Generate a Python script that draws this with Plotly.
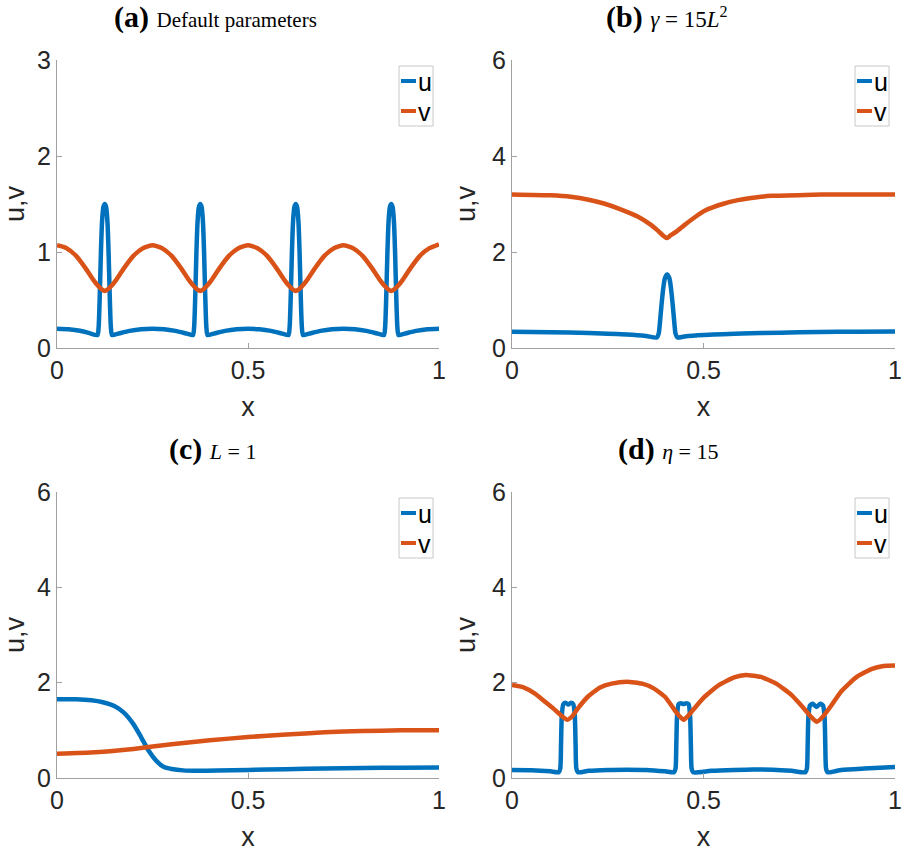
import plotly.graph_objects as go

# ---------------- data ----------------
# (a) Default parameters
xa_u = [0.000, 0.030, 0.060, 0.085,
        0.106, 0.109, 0.112, 0.115, 0.118, 0.1215, 0.125, 0.1285, 0.132, 0.135, 0.138, 0.141, 0.144,
        0.160, 0.190, 0.220, 0.250, 0.280, 0.310, 0.340,
        0.356, 0.359, 0.362, 0.365, 0.368, 0.3715, 0.375, 0.3785, 0.382, 0.385, 0.388, 0.391, 0.394,
        0.410, 0.440, 0.470, 0.500, 0.530, 0.560, 0.590,
        0.606, 0.609, 0.612, 0.615, 0.618, 0.6215, 0.625, 0.6285, 0.632, 0.635, 0.638, 0.641, 0.644,
        0.660, 0.690, 0.720, 0.750, 0.780, 0.810, 0.840,
        0.856, 0.859, 0.862, 0.865, 0.868, 0.8715, 0.875, 0.8785, 0.882, 0.885, 0.888, 0.891, 0.894,
        0.910, 0.940, 0.970, 1.000]
ua = [0.200, 0.195, 0.180, 0.155,
      0.135, 0.22, 0.55, 1.00, 1.32, 1.47, 1.50, 1.47, 1.32, 1.00, 0.55, 0.22, 0.135,
      0.150, 0.178, 0.195, 0.200, 0.195, 0.178, 0.150,
      0.135, 0.22, 0.55, 1.00, 1.32, 1.47, 1.50, 1.47, 1.32, 1.00, 0.55, 0.22, 0.135,
      0.150, 0.178, 0.195, 0.200, 0.195, 0.178, 0.150,
      0.135, 0.22, 0.55, 1.00, 1.32, 1.47, 1.50, 1.47, 1.32, 1.00, 0.55, 0.22, 0.135,
      0.150, 0.178, 0.195, 0.200, 0.195, 0.178, 0.150,
      0.135, 0.22, 0.55, 1.00, 1.32, 1.47, 1.50, 1.47, 1.32, 1.00, 0.55, 0.22, 0.135,
      0.150, 0.178, 0.195, 0.200]
xa_v = [0.000, 0.025, 0.050, 0.075, 0.095, 0.108, 0.118, 0.125, 0.132, 0.142, 0.155, 0.175, 0.200, 0.225,
        0.250, 0.275, 0.300, 0.325, 0.345, 0.358, 0.368, 0.375, 0.382, 0.392, 0.405, 0.425, 0.450, 0.475,
        0.500, 0.525, 0.550, 0.575, 0.595, 0.608, 0.618, 0.625, 0.632, 0.642, 0.655, 0.675, 0.700, 0.725,
        0.750, 0.775, 0.800, 0.825, 0.845, 0.858, 0.868, 0.875, 0.882, 0.892, 0.905, 0.925, 0.950, 0.975,
        1.000]
va = [1.07, 1.04, 0.96, 0.83, 0.71, 0.645, 0.607, 0.595, 0.607, 0.645, 0.71, 0.83, 0.96, 1.04,
      1.07, 1.04, 0.96, 0.83, 0.71, 0.645, 0.607, 0.595, 0.607, 0.645, 0.71, 0.83, 0.96, 1.04,
      1.07, 1.04, 0.96, 0.83, 0.71, 0.645, 0.607, 0.595, 0.607, 0.645, 0.71, 0.83, 0.96, 1.04,
      1.07, 1.04, 0.96, 0.83, 0.71, 0.645, 0.607, 0.595, 0.607, 0.645, 0.71, 0.83, 0.96, 1.04,
      1.08]

# (b) gamma = 15 L^2
xb_u = [0.000, 0.100, 0.200, 0.300, 0.350, 0.378, 0.383, 0.387, 0.391, 0.395, 0.399, 0.405,
        0.411, 0.415, 0.419, 0.423, 0.427, 0.432, 0.450, 0.500, 0.600, 0.700, 0.800, 0.900, 1.000]
ub = [0.34, 0.33, 0.31, 0.28, 0.25, 0.22, 0.30, 0.60, 0.95, 1.25, 1.45, 1.53,
      1.45, 1.25, 0.95, 0.60, 0.30, 0.22, 0.24, 0.27, 0.30, 0.32, 0.335, 0.34, 0.345]
xb_v = [0.000, 0.100, 0.153, 0.200, 0.240, 0.280, 0.328, 0.360, 0.380, 0.395, 0.404, 0.413,
        0.430, 0.450, 0.480, 0.503, 0.550, 0.590, 0.640, 0.678, 0.765, 0.850, 1.000]
vb = [3.20, 3.18, 3.15, 3.09, 3.01, 2.90, 2.74, 2.58, 2.45, 2.34, 2.29, 2.34,
      2.43, 2.56, 2.74, 2.86, 3.00, 3.08, 3.14, 3.17, 3.19, 3.20, 3.20]

# (c) L = 1
xc_u = [0.000, 0.050, 0.090, 0.120, 0.150, 0.175, 0.200, 0.220, 0.240, 0.260, 0.280, 0.300,
        0.330, 0.370, 0.420, 0.500, 0.600, 0.700, 0.800, 0.900, 1.000]
uc = [1.65, 1.65, 1.63, 1.59, 1.51, 1.37, 1.13, 0.86, 0.57, 0.36, 0.23, 0.19,
      0.16, 0.15, 0.155, 0.17, 0.185, 0.20, 0.21, 0.215, 0.22]
xc_v = [0.000, 0.100, 0.200, 0.300, 0.400, 0.500, 0.600, 0.700, 0.800, 0.900, 1.000]
vc = [0.51, 0.54, 0.61, 0.71, 0.79, 0.86, 0.91, 0.96, 0.985, 1.00, 1.00]

# (d) eta = 15
xd_u = [0.000, 0.050, 0.100, 0.122,
        0.126, 0.128, 0.130, 0.134, 0.140, 0.147, 0.154, 0.160, 0.164, 0.166, 0.168, 0.172,
        0.200, 0.250, 0.300, 0.350, 0.400, 0.423,
        0.427, 0.429, 0.431, 0.435, 0.441, 0.448, 0.455, 0.461, 0.465, 0.467, 0.469, 0.473,
        0.520, 0.580, 0.630, 0.680, 0.730, 0.766,
        0.770, 0.772, 0.774, 0.778, 0.785, 0.795, 0.805, 0.812, 0.816, 0.818, 0.820, 0.824,
        0.860, 0.920, 1.000]
ud = [0.17, 0.165, 0.14, 0.12,
      0.20, 0.70, 1.30, 1.55, 1.58, 1.54, 1.58, 1.55, 1.30, 0.70, 0.20, 0.12,
      0.15, 0.17, 0.175, 0.17, 0.14, 0.12,
      0.20, 0.70, 1.30, 1.55, 1.57, 1.55, 1.57, 1.55, 1.30, 0.70, 0.20, 0.12,
      0.15, 0.17, 0.18, 0.175, 0.15, 0.12,
      0.20, 0.70, 1.30, 1.52, 1.56, 1.49, 1.56, 1.52, 1.30, 0.70, 0.20, 0.12,
      0.17, 0.20, 0.23]
xd_v = [0.000, 0.030, 0.060, 0.083, 0.109, 0.130, 0.144, 0.158, 0.171, 0.200, 0.230, 0.260,
        0.300, 0.340, 0.370, 0.400, 0.425, 0.438, 0.448, 0.458, 0.472, 0.500, 0.540, 0.580,
        0.610, 0.650, 0.690, 0.730, 0.760, 0.780, 0.796, 0.812, 0.830, 0.860, 0.900, 0.940,
        0.970, 1.000]
vd = [1.95, 1.90, 1.77, 1.62, 1.45, 1.30, 1.22, 1.30, 1.45, 1.72, 1.90, 1.98,
      2.02, 1.98, 1.88, 1.70, 1.42, 1.29, 1.22, 1.29, 1.42, 1.68, 1.95, 2.11,
      2.16, 2.12, 1.98, 1.74, 1.48, 1.29, 1.18, 1.29, 1.48, 1.82, 2.12, 2.29,
      2.35, 2.36]

titles = ["<b>(a)</b> <span style='font-size:21px'>Default parameters</span>",
          "<b>(b)</b> <span style='font-size:23px'><i>γ</i> = 15<i>L</i><sup>2</sup></span>",
          "<b>(c)</b> <span style='font-size:22px'><i>L</i> = 1</span>",
          "<b>(d)</b> <span style='font-size:22px'><i>η</i> = 15</span>"]
y_ranges = [[0, 3], [0, 6], [0, 6], [0, 6]]
y_ticks = [[0, 1, 2, 3], [0, 2, 4, 6], [0, 2, 4, 6], [0, 2, 4, 6]]
x_ticks = [0, 0.5, 1]
x_ticktext = ["0", "0.5", "1"]
series_names = ["u", "v"]

BLUE = "#0072BD"
ORANGE = "#D95319"
W, H = 905, 852
AXC = "#a0a0a0"
TXT = "#262626"
FONT = "Liberation Sans, Arial, sans-serif"
SERIF = "Liberation Serif, DejaVu Serif, serif"

def fx(p):
    return p / W

def fy(p):
    return 1 - p / H

# panel pixel boxes: (left, right, top, bottom)
boxes = [(57, 439, 60, 348), (512, 895, 60, 348), (57, 439, 492, 778), (512, 895, 492, 778)]
title_pos = [(215, 17), (667, 17), (212, 449), (668, 449)]

data = [(xa_u, ua, xa_v, va), (xb_u, ub, xb_v, vb), (xc_u, uc, xc_v, vc), (xd_u, ud, xd_v, vd)]

fig = go.Figure()
shapes = []
annotations = []
for i, (xu, u, xv, v) in enumerate(data):
    n = "" if i == 0 else str(i + 1)
    xa = "x" + n
    ya = "y" + n
    fig.add_trace(go.Scatter(x=xu, y=u, mode="lines", name=series_names[0], xaxis=xa, yaxis=ya,
                             line=dict(color=BLUE, width=4.5, shape="spline", smoothing=0.6),
                             showlegend=False))
    fig.add_trace(go.Scatter(x=xv, y=v, mode="lines", name=series_names[1], xaxis=xa, yaxis=ya,
                             line=dict(color=ORANGE, width=4.5, shape="spline", smoothing=0.5),
                             showlegend=False))
    l, r, t, b = boxes[i]
    common = dict(showline=True, linecolor=AXC, linewidth=1, ticks="inside", ticklen=5,
                  tickcolor=AXC, tickwidth=1, showgrid=False, zeroline=False, automargin=False,
                  tickfont=dict(family=FONT, size=25, color=TXT), mirror=False)
    fig.layout["xaxis" + n] = dict(domain=[fx(l), fx(r)], anchor=ya, range=[0, 1],
                                   tickvals=x_ticks, ticktext=x_ticktext,
                                   title=dict(text="x", font=dict(family=FONT, size=27, color=TXT), standoff=14),
                                   **common)
    fig.layout["yaxis" + n] = dict(domain=[fy(b), fy(t)], anchor=xa, range=y_ranges[i],
                                   tickvals=y_ticks[i],
                                   title=dict(text="u,v", font=dict(family=FONT, size=27, color=TXT), standoff=8),
                                   **common)
    # panel title
    tx, ty = title_pos[i]
    annotations.append(dict(x=fx(tx), y=fy(ty), xref="paper", yref="paper", text=titles[i],
                            showarrow=False, xanchor="center", yanchor="middle",
                            font=dict(family=SERIF, size=30, color="#000000")))
    # legend box
    lr = r - 6
    ll = lr - 34
    lt = t + 6
    lb = t + 66
    shapes.append(dict(type="rect", xref="paper", yref="paper", x0=fx(ll), x1=fx(lr), y0=fy(lb), y1=fy(lt),
                       line=dict(color="#c8c8c8", width=1), fillcolor="white", layer="above"))
    for j, (col, name) in enumerate([(BLUE, series_names[0]), (ORANGE, series_names[1])]):
        yy = lt + 15 + 30 * j
        shapes.append(dict(type="line", xref="paper", yref="paper", x0=fx(ll + 2), x1=fx(ll + 17),
                           y0=fy(yy), y1=fy(yy), line=dict(color=col, width=4), layer="above"))
        annotations.append(dict(x=fx(ll + 17), y=fy(yy + 1), xref="paper", yref="paper", text=name,
                                showarrow=False, xanchor="left", yanchor="middle",
                                font=dict(family=FONT, size=25, color="#000000")))

fig.update_layout(width=W, height=H, margin=dict(l=0, r=0, t=0, b=0),
                  paper_bgcolor="white", plot_bgcolor="white",
                  shapes=shapes, annotations=annotations, showlegend=False)

fig.write_html("out.html", config={"displayModeBar": False},
               post_script="document.body.style.margin='0px';document.body.style.padding='0px';")
